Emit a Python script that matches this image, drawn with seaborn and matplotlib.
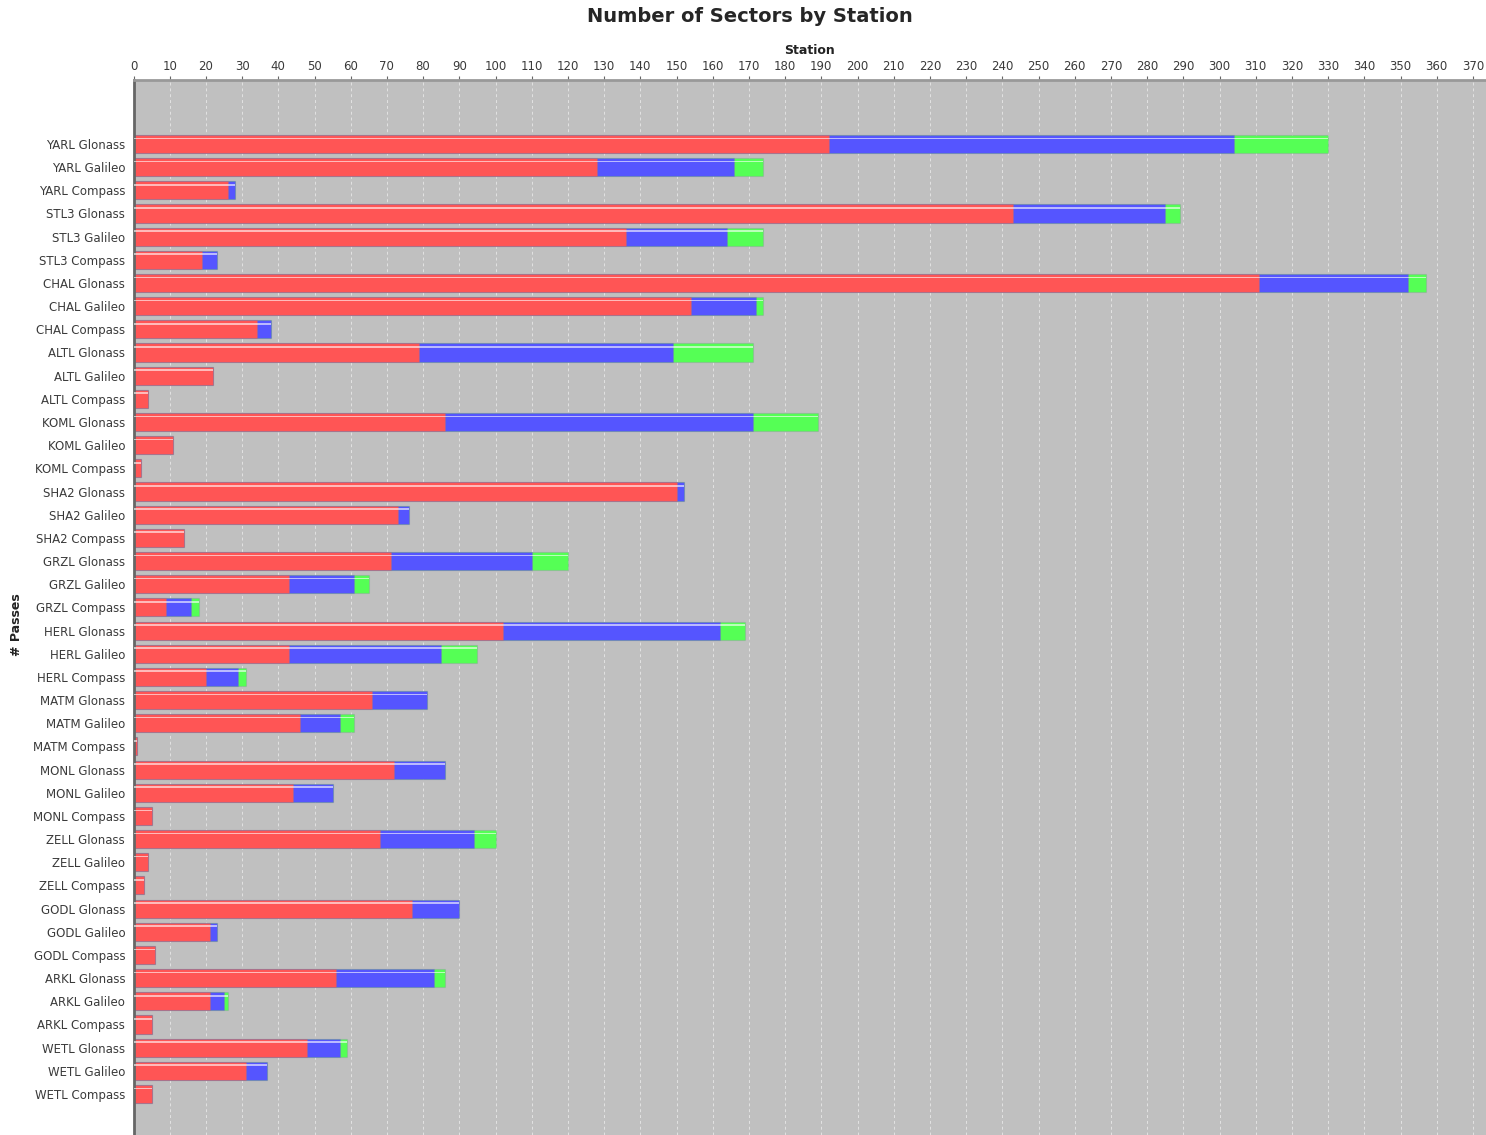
import numpy as np
import pandas as pd
import matplotlib
matplotlib.use("Agg")
import matplotlib.pyplot as plt
import seaborn as sns

stations = ["YARL", "STL3", "CHAL", "ALTL", "KOML", "SHA2", "GRZL", "HERL",
            "MATM", "MONL", "ZELL", "GODL", "ARKL", "WETL"]
systems = ["Glonass", "Galileo", "Compass"]
labels = [f"{s} {g}" for s in stations for g in systems]

# stacked segments
red = [192, 128, 26, 243, 136, 19, 311, 154, 34, 79, 22, 4, 86, 11, 2,
       150, 73, 14, 71, 43, 9, 102, 43, 20, 66, 46, 1, 72, 44, 5,
       68, 4, 3, 77, 21, 6, 56, 21, 5, 48, 31, 5]
blue = [112, 38, 2, 42, 28, 4, 41, 18, 4, 70, 0, 0, 85, 0, 0,
        2, 3, 0, 39, 18, 7, 60, 42, 9, 15, 11, 0, 14, 11, 0,
        26, 0, 0, 13, 2, 0, 27, 4, 0, 9, 6, 0]
green = [26, 8, 0, 4, 10, 0, 5, 2, 0, 22, 0, 0, 18, 0, 0,
         0, 0, 0, 10, 4, 2, 7, 10, 2, 0, 4, 0, 0, 0, 0,
         6, 0, 0, 0, 0, 0, 3, 1, 0, 2, 0, 0]

df = pd.DataFrame({"label": labels, "red": red, "blue": blue, "green": green})
df["rb"] = df["red"] + df["blue"]
df["total"] = df["rb"] + df["green"]

sns.set_style("white")
plt.rcParams["font.family"] = ["DejaVu Sans"]

fig = plt.figure(figsize=(14.86, 11.35), dpi=100)
ax = fig.add_axes([133.5 / 1486, 0.0, 1 - 133.5 / 1486, 1 - 80 / 1135])
ax.set_facecolor("#c0c0c0")

bar_w = 0.78
edge = (0.5, 0.5, 0.6, 0.25)
sns.barplot(data=df, x="total", y="label", orient="h", color="#55ff55",
            saturation=1, width=bar_w, edgecolor=edge, linewidth=0.8, ax=ax)
sns.barplot(data=df, x="rb", y="label", orient="h", color="#5555ff",
            saturation=1, width=bar_w, edgecolor=edge, linewidth=0.8, ax=ax)
sns.barplot(data=df, x="red", y="label", orient="h", color="#ff5555",
            saturation=1, width=bar_w, edgecolor=edge, linewidth=0.8, ax=ax)

# glossy highlight stripe near the top of each bar
ypos = np.arange(len(df))
ax.barh(ypos - bar_w * 0.31, df["total"], height=0.07, color="white",
        alpha=0.6, linewidth=0, zorder=5)

ax.set_xlim(0, 373.6)
ax.set_ylim(42.77, -2.76)
ax.set_xticks(np.arange(0, 371, 10))
ax.xaxis.tick_top()
ax.xaxis.set_label_position("top")
ax.tick_params(axis="x", labelsize=8.5, colors="#666666", length=3,
               pad=2, labelcolor="#3a3a3a")
ax.tick_params(axis="y", labelsize=8.5, length=3, pad=3,
               colors="#777777", labelcolor="#3a3a3a")
ax.set_xlabel("Station", fontsize=9, fontweight="bold", labelpad=4,
              color="#222222")
ax.set_ylabel("")
ax.grid(axis="x", color="white", linestyle=(0, (3, 3)), linewidth=0.7,
        alpha=0.55)
ax.set_axisbelow(True)

for side in ["right", "bottom"]:
    ax.spines[side].set_visible(False)
ax.spines["left"].set_color("#666666")
ax.spines["left"].set_linewidth(2)
ax.spines["top"].set_color("#999999")
ax.spines["top"].set_linewidth(2)

fig.text(750 / 1486, 1 - 17 / 1135, "Number of Sectors by Station",
         ha="center", va="center", fontsize=14, fontweight="bold")
fig.text(17 / 1486, 1 - 625 / 1135, "# Passes", ha="center", va="center",
         rotation=90, fontsize=9, fontweight="bold", color="#222222")

fig.savefig("out.png", dpi=100)
